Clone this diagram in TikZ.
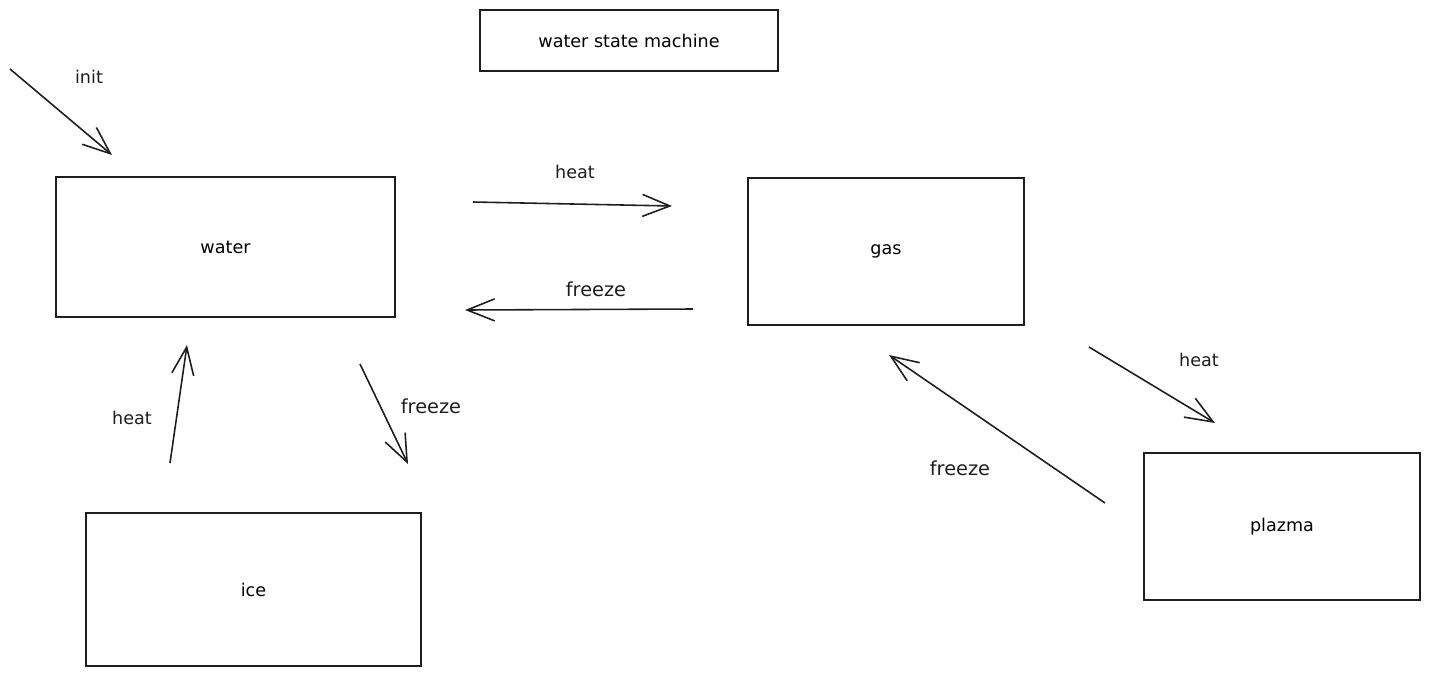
\documentclass[tikz,border=0pt]{standalone}
\usepackage{fontspec}
\setmainfont{DejaVu Sans}
\usepackage{tikz}
\usetikzlibrary{arrows.meta,positioning}
\definecolor{sketch-ink}{HTML}{1E1E1E}
\tikzset{
  statebox/.style={draw=sketch-ink,line width=0.9pt,inner sep=0pt,font=\fontsize{10}{12}\selectfont},
  transition/.style={draw=sketch-ink,line width=0.9pt,-{Straight Barb[length=5.5mm,width=4.4mm,line width=0.9pt]}},
  edgelabel/.style={text=sketch-ink,font=\fontsize{10}{12}\selectfont},
}
\begin{document}
\begin{tikzpicture}[x=0.02cm,y=-0.02cm]
  \useasboundingbox (0,0) rectangle (1431,677);
  % states
  \node[statebox,minimum width=5.96cm,minimum height=1.22cm] (title) at (629,40.5) {water state machine};
  \node[statebox,minimum width=6.78cm,minimum height=2.8cm] (water) at (225.5,247) {water};
  \node[statebox,minimum width=5.52cm,minimum height=2.94cm] (gas) at (886,251.5) {gas};
  \node[statebox,minimum width=6.7cm,minimum height=3.06cm] (ice) at (253.5,589.5) {ice};
  \node[statebox,minimum width=5.52cm,minimum height=2.94cm] (plazma) at (1282,526.5) {plazma};
  % free arrow ends
  \coordinate (init-a) at (10,69);       \coordinate (init-b) at (112,155);
  \coordinate (wg-a) at (473,202);       \coordinate (wg-b) at (672,206);
  \coordinate (gw-a) at (693,309);       \coordinate (gw-b) at (465,310);
  \coordinate (iw-a) at (170,463);       \coordinate (iw-b) at (187,345);
  \coordinate (wi-a) at (360,364);       \coordinate (wi-b) at (408,464);
  \coordinate (gp-a) at (1089,347);      \coordinate (gp-b) at (1215,423);
  \coordinate (pg-a) at (1105,503);      \coordinate (pg-b) at (889,355);
  % transitions
  \draw[transition] (init-a) -- (init-b);
  \draw[transition] (wg-a) -- (wg-b);
  \draw[transition] (gw-a) -- (gw-b);
  \draw[transition] (iw-a) -- (iw-b);
  \draw[transition] (wi-a) -- (wi-b);
  \draw[transition] (gp-a) -- (gp-b);
  \draw[transition] (pg-a) -- (pg-b);
  \node[edgelabel] (init-lbl) at (89,77) {init};
  \node[edgelabel] (wg-lbl) at (575,172) {heat};
  \node[edgelabel,font=\fontsize{11}{13}\selectfont] (gw-lbl) at (596,289) {freeze};
  \node[edgelabel] (iw-lbl) at (132,418) {heat};
  \node[edgelabel,font=\fontsize{11}{13}\selectfont] (wi-lbl) at (431,406) {freeze};
  \node[edgelabel] (gp-lbl) at (1199,360) {heat};
  \node[edgelabel,font=\fontsize{11}{13}\selectfont] (pg-lbl) at (960,468) {freeze};
\end{tikzpicture}
\end{document}
